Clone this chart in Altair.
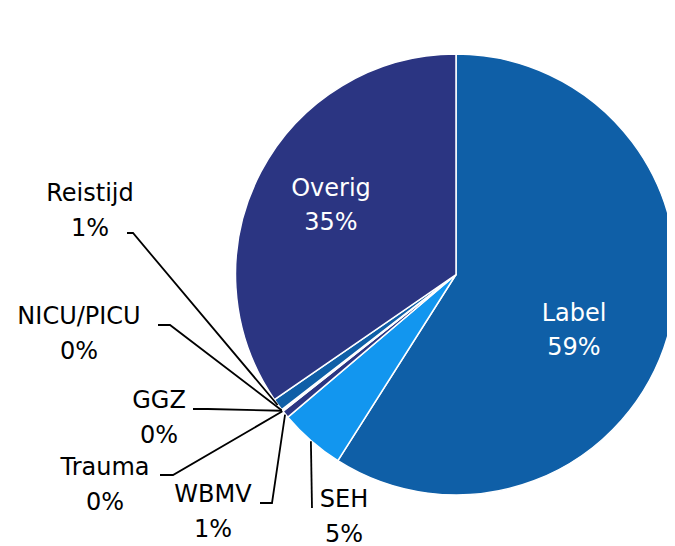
import math
import altair as alt
import pandas as pd

# ---- data ----
categories = ["Label", "SEH", "WBMV", "Trauma", "GGZ", "NICU/PICU", "Reistijd", "Overig"]
values = [59.0, 4.8, 0.55, 0.05, 0.05, 0.05, 0.9, 34.6]

# ---- style / layout ----
colors = ["#0F5FA7", "#1296EF", "#2B3582", "#0F5FA7", "#1296EF", "#2B3582", "#0F5FA7", "#2B3582"]
W, H = 659, 538
CX, CY, R = 448, 266.5, 220.5
FONT = "DejaVu Sans"
inside = ["Label", "Overig"]
# centre of the first text line of each label
label_pos = {
    "Label": (566, 306), "Overig": (323, 181),
    "SEH": (336, 492), "WBMV": (205, 487), "Trauma": (97, 460),
    "GGZ": (151, 393), "NICU/PICU": (71, 309), "Reistijd": (82, 186),
}
leader_start = {
    "SEH": (304, 500), "WBMV": (252, 495), "Trauma": (152, 467),
    "GGZ": (185, 401), "NICU/PICU": (150, 317), "Reistijd": (119, 225),
}
elbow_dx = {"SEH": 0, "WBMV": 12, "Trauma": 13, "GGZ": 15, "NICU/PICU": 12, "Reistijd": 6}

total = sum(values)
pie = pd.DataFrame({"cat": categories, "value": values, "idx": range(len(categories))})

# mid angles of slices (from 12 o'clock, clockwise)
mids = {}
cum = 0.0
for c, v in zip(categories, values):
    mids[c] = (cum + v / 2) / total * 2 * math.pi
    cum += v

labels = pd.DataFrame({
    "cat": categories,
    "txt": [f"{c}\n{v:.0f}%" for c, v in zip(categories, values)],
    "x": [label_pos[c][0] for c in categories],
    "y": [label_pos[c][1] for c in categories],
    "inside": [c in inside for c in categories],
})

rows = []
for c, (lx, ly) in leader_start.items():
    a = mids[c]
    px = CX + (R + 0.5) * math.sin(a)
    py = CY - (R + 0.5) * math.cos(a)
    rows.append({"cat": c, "o": 0, "x": px, "y": py})
    rows.append({"cat": c, "o": 1, "x": lx + elbow_dx[c], "y": ly})
    rows.append({"cat": c, "o": 2, "x": lx, "y": ly})
leaders = pd.DataFrame(rows)

xs = alt.Scale(domain=[0, W], nice=False, zero=False)
ys = alt.Scale(domain=[0, H], nice=False, zero=False, reverse=True)

arcs = alt.Chart(pie).mark_arc(radius=R, stroke="white", strokeWidth=1.5).encode(
    theta=alt.Theta("value:Q", stack=True),
    order=alt.Order("idx:Q"),
    color=alt.Color("cat:N", scale=alt.Scale(domain=categories, range=colors), legend=None),
    x=alt.value(CX),
    y=alt.value(CY),
)

lines = alt.Chart(leaders).mark_line(color="black", strokeWidth=1.8).encode(
    x=alt.X("x:Q", scale=xs, axis=None),
    y=alt.Y("y:Q", scale=ys, axis=None),
    detail="cat:N",
    order="o:Q",
)

text_in = alt.Chart(labels).transform_filter("datum.inside").mark_text(
    font=FONT, fontSize=24, color="white", lineBreak="\n", lineHeight=33.5,
    align="center", baseline="middle",
).encode(
    x=alt.X("x:Q", scale=xs, axis=None),
    y=alt.Y("y:Q", scale=ys, axis=None),
    text="txt:N",
)

text_out = alt.Chart(labels).transform_filter("!datum.inside").mark_text(
    font=FONT, fontSize=24, color="black", lineBreak="\n", lineHeight=34.5,
    align="center", baseline="middle",
).encode(
    x=alt.X("x:Q", scale=xs, axis=None),
    y=alt.Y("y:Q", scale=ys, axis=None),
    text="txt:N",
)

chart = alt.layer(arcs, lines, text_in, text_out).properties(
    width=W, height=H, padding=0,
    autosize=alt.AutoSizeParams(type="none"),
).configure_view(stroke=None)

chart.save("out.html", embed_options={"renderer": "svg", "actions": False})
